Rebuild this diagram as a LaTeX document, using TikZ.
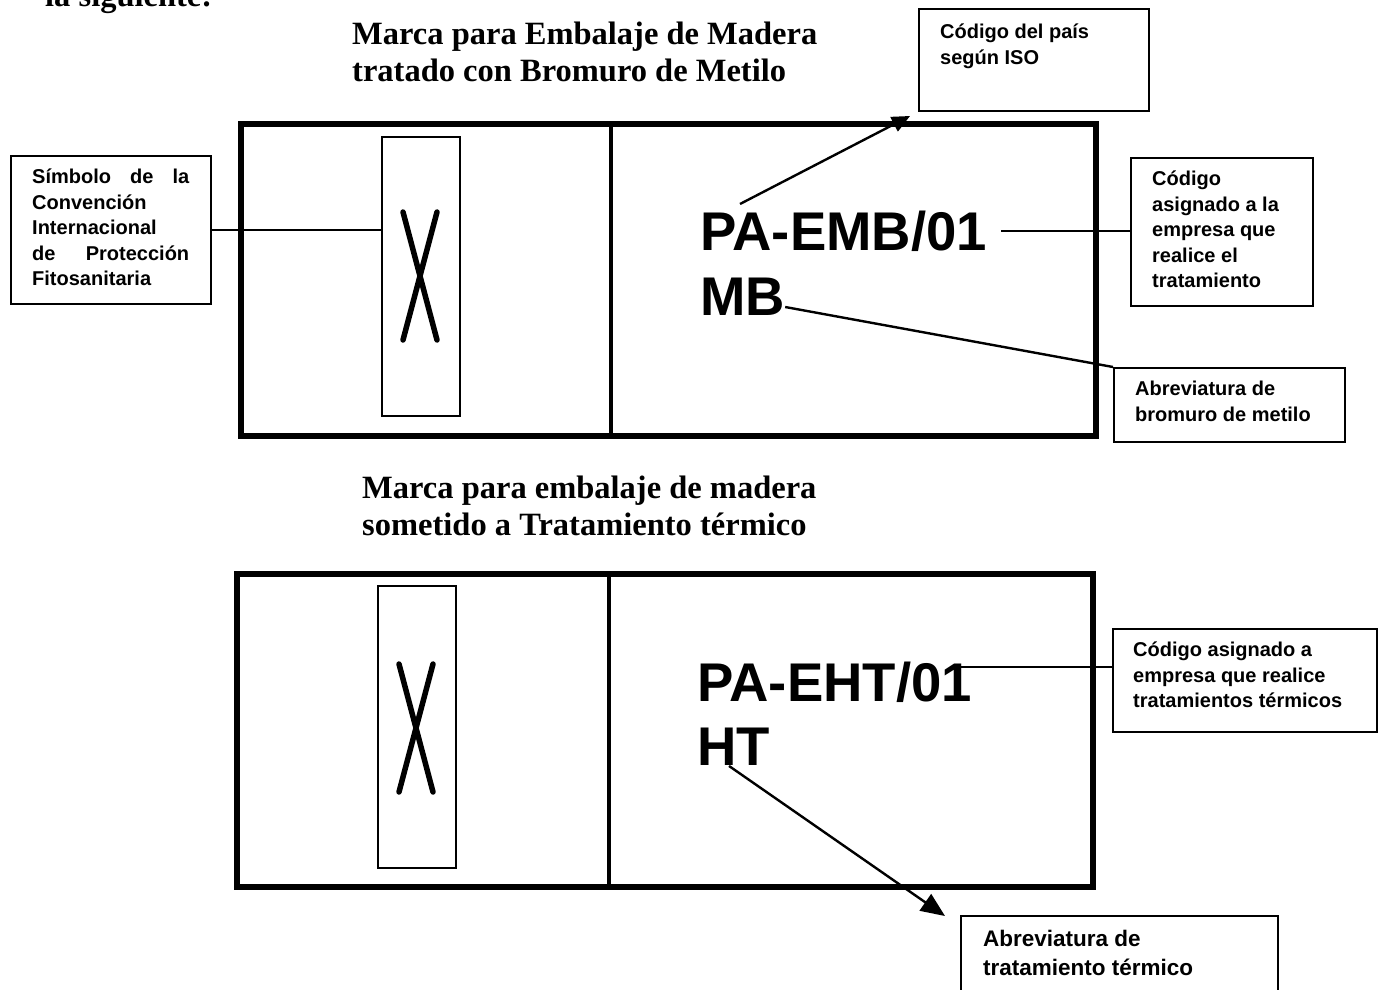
\documentclass[tikz,border=0pt]{standalone}
\usepackage{fontspec}
\setmainfont{Liberation Serif}
\setsansfont{Liberation Sans}
\usetikzlibrary{calc,arrows.meta}
\begin{document}
\begin{tikzpicture}[x=1pt,y=-1pt,
  frame/.style={draw, line width=5.5pt, inner sep=0pt, anchor=north west},
  inbox/.style={draw, line width=2.2pt, inner sep=0pt, anchor=north west},
  lbox/.style={draw, line width=2.4pt, inner sep=0pt, anchor=north west},
  ltext/.style={anchor=north west, inner sep=0pt, align=left, font=\sffamily\bfseries\fontsize{20}{25.5}\selectfont},
  title/.style={anchor=west, inner sep=0pt, align=left, font=\bfseries\fontsize{32.5}{37.5}\selectfont},
  code/.style={anchor=west, inner sep=0pt, font=\sffamily\bfseries\fontsize{54.5}{66}\selectfont},
  conn/.style={line width=2.4pt},
  xmark/.style={line width=5.5pt, line cap=round}]
\useasboundingbox (0,0) rectangle (1378,990);

% cut-off line of the preceding text
\node[anchor=base west, inner sep=0pt, font=\bfseries\fontsize{32.5}{37.5}\selectfont] (prev) at (45,7) {la siguiente:};

% ---------- top mark ----------
\node[title] (t1) at (352,52) {Marca para Embalaje de Madera\\tratado con Bromuro de Metilo};

\node[frame, minimum width=855pt, minimum height=312pt] (f1) at (238,121) {};
\draw[line width=4.5pt] (611,121) -- (611,433);
\node[inbox, minimum width=78pt, minimum height=279pt] (in1) at (381,136) {};
\draw[xmark] (403,212) -- (437,340);
\draw[xmark] (437,212) -- (403,340);

\node[code] (code1) at (700,231) {PA-EMB/01};
\node[code] (mb) at (700,297) {MB};

\node[lbox, minimum width=230pt, minimum height=102pt] (iso) at (918,8) {};
\node[ltext] (isot) at (940,24) {Código del país\\según ISO};

\node[lbox, minimum width=200pt, minimum height=148pt] (sym) at (10,155) {};
\node[ltext] (symt) at (32,169) {\makebox[157pt][s]{Símbolo de la}\\Convención\\Internacional\\\makebox[157pt][s]{de Protección}\\Fitosanitaria};

\node[lbox, minimum width=182pt, minimum height=148pt] (asig) at (1130,157) {};
\node[ltext] (asigt) at (1152,171) {Código\\asignado a la\\empresa que\\realice el\\tratamiento};

\node[lbox, minimum width=231pt, minimum height=74pt] (abr) at (1113,367) {};
\node[ltext] (abrt) at (1135,381) {Abreviatura de\\bromuro de metilo};

\coordinate (isostart) at (740,204);
\coordinate (isotip) at (910,116);
\draw[conn, -{Triangle[length=18pt,width=16pt]}] (isostart) -- (isotip);
\draw[conn] (sym.east) -- (sym.east -| in1.west);
\draw[conn] ($(code1.east)+(14,0)$) -- (code1.east -| asig.west);
\draw[conn] ($(mb.east)+(0,10)$) -- (abr.north west);

% ---------- bottom mark ----------
\node[title] (t2) at (362,506) {Marca para embalaje de madera\\sometido a Tratamiento térmico};

\node[frame, minimum width=856pt, minimum height=313pt] (f2) at (234,571) {};
\draw[line width=4.5pt] (609,571) -- (609,884);
\node[inbox, minimum width=78pt, minimum height=282pt] (in2) at (377,585) {};
\draw[xmark] (399,664) -- (433,792);
\draw[xmark] (433,664) -- (399,792);

\node[code] (code2) at (697,682) {PA-EHT/01};
\node[code] (ht) at (697,747) {HT};

\node[lbox, minimum width=264pt, minimum height=103pt] (asig2) at (1112,628) {};
\node[ltext] (asig2t) at (1133,642) {Código asignado a\\empresa que realice\\tratamientos térmicos};

\node[lbox, minimum width=317pt, minimum height=110pt] (abt) at (960,915) {};
\node[ltext, font=\sffamily\bfseries\fontsize{22.5}{29}\selectfont] (abtt) at (983,930) {Abreviatura de\\tratamiento térmico};

\coordinate (c2start) at (960,667);
\draw[conn] (c2start) -- (c2start -| asig2.west);
\coordinate (httip) at (945,916);
\draw[conn, -{Triangle[length=24pt,width=20pt]}] ($(ht.south west)+(32,0)$) -- (httip);
\end{tikzpicture}
\end{document}
